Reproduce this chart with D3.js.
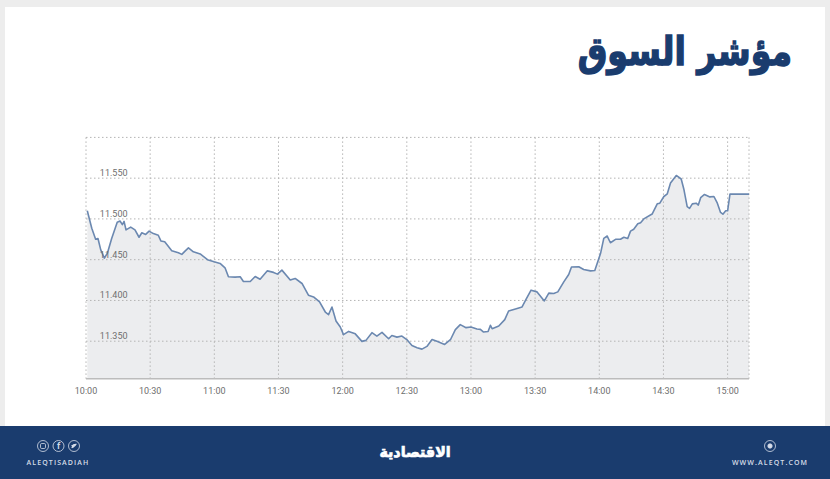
<!DOCTYPE html>
<html lang="ar">
<head>
    <meta charset="UTF-8">
    <title>مؤشر السوق</title>
    <script src="https://d3js.org/d3.v7.min.js"></script>
    <style>
        html, body { margin: 0; padding: 0; background: #fff; }
        svg { display: block; }
        .grid line { stroke: #b4b4b4; stroke-dasharray: 1.5 2.5; }
        .tick-label { font-family: Roboto, sans-serif; font-size: 9px; fill: #6e6e6e; }
    </style>
</head>
<body>
    <script>
        // minutes after 10:00
        var minutes = [0.6, 2.7, 4.5, 5.6, 6.9, 8.6, 10, 12, 14.6, 15.9, 17, 17.8, 18.7, 20.9, 22.9, 24.8, 26.1, 27.9, 29.5, 31.5,
            33.8, 35, 36.8, 40.1, 43.2, 44.8, 46.3, 47.9, 50.2, 53.4, 56.8, 59.9, 62.7, 65, 66.6, 69.7, 72.1, 73.6, 76.8, 79.1,
            81.4, 84.8, 87.7, 89.5, 91.6, 95.5, 97.8, 101, 104, 106.4, 109.2, 111.9, 113.4, 115, 116.9, 118.9, 120.4, 122.8, 125.9, 129,
            130.9, 133.7, 136, 138.4, 141.5, 143, 145.4, 147.7, 150, 152.4, 154.8, 157.1, 159.4, 161.8, 164.1, 167.7, 170.4, 172.7, 175, 177.7,
            180, 182.8, 184.4, 185.9, 188, 189.1, 189.9, 193, 195.8, 197.6, 200.8, 203.9, 205.8, 208.1, 210.9, 214.3, 216.4, 218.7, 220.6, 223.4,
            225.7, 227, 230.4, 232.7, 235.9, 237.9, 240.6, 242.1, 243.7, 245.2, 247.6, 249.9, 251.5, 253.3, 254.6, 256.1, 258, 259.3, 260.8, 264.7,
            267.1, 268.3, 270.2, 271.8, 273.3, 276, 278.3, 279.6, 281.1, 282.2, 283.5, 285.3, 286.3, 287.4, 289.2, 291.7, 293.6, 295.2, 296.7, 297.8,
            299.1, 300, 301.1, 310];

        var values = [11510, 11488.5, 11475, 11476, 11462, 11452, 11458, 11476, 11496, 11497.5, 11493, 11497, 11486.5, 11490, 11486.5, 11477.5, 11483, 11481, 11485, 11482,
            11480, 11473, 11472, 11461, 11458.5, 11456.5, 11460.5, 11464.5, 11459.7, 11457, 11450, 11447.4, 11445.4, 11440, 11429, 11428.6, 11429, 11423.3, 11423.3, 11429.4,
            11426, 11436.3, 11434.4, 11432.3, 11437.2, 11425, 11427, 11420.8, 11406.4, 11404.3, 11398.2, 11385.8, 11382.6, 11392, 11374.8, 11367.4, 11358, 11362, 11359, 11349.8,
            11351, 11360.5, 11356.3, 11360.8, 11353, 11357, 11355, 11356.3, 11352, 11344.8, 11342, 11340.3, 11343.6, 11352, 11349.8, 11346, 11351.8, 11364.2, 11370.3, 11366.6,
            11367.4, 11365, 11364.5, 11361.2, 11362, 11369.5, 11365.4, 11368.6, 11376.5, 11387, 11389.5, 11392, 11401.5, 11412.6, 11410.5, 11399.4, 11409, 11408.5, 11410.5, 11422.8,
            11431.9, 11441, 11441.3, 11438, 11436.3, 11436.8, 11457.8, 11476.2, 11479, 11470.8, 11475, 11475, 11477.5, 11476, 11485, 11487.3, 11494, 11495.4, 11500, 11506,
            11518.5, 11519.3, 11527.5, 11530.8, 11544, 11553.3, 11549, 11535.7, 11515, 11513, 11518.5, 11519.3, 11517, 11526, 11530, 11527, 11527.5, 11519.3, 11508, 11505.8,
            11510, 11510, 11530.4, 11530.4];

        var xTicks = [0, 30, 60, 90, 120, 150, 180, 210, 240, 270, 300];
        var xLabels = ["10:00", "10:30", "11:00", "11:30", "12:00", "12:30", "13:00", "13:30", "14:00", "14:30", "15:00"];
        var yTicks = [11350, 11400, 11450, 11500, 11550];
        var yLabels = ["11.350", "11.400", "11.450", "11.500", "11.550"];

        var width = 830, height = 479;
        var navy = "#1a3c6e";

        var svg = d3.select("body").append("svg")
            .attr("width", width)
            .attr("height", height);

        // page frame
        svg.append("rect").attr("width", width).attr("height", height).attr("fill", "#ededed");
        svg.append("rect").attr("x", 5).attr("y", 7).attr("width", 820).attr("height", 419).attr("fill", "#fff");

        var x = d3.scaleLinear().domain([0, 310]).range([86, 749]);
        var y = d3.scaleLinear().domain([11304, 11600]).range([378.7, 137.4]);

        var points = d3.zip(minutes, values);

        var area = d3.area()
            .x(function (d) { return x(d[0]); })
            .y0(y(11304))
            .y1(function (d) { return y(d[1]); });

        var line = d3.line()
            .x(function (d) { return x(d[0]); })
            .y(function (d) { return y(d[1]); });

        svg.append("path").attr("d", area(points)).attr("fill", "#ecedef");

        var grid = svg.append("g").attr("class", "grid");
        grid.selectAll(".h")
            .data(yTicks.concat([11600]))
            .enter().append("line")
            .attr("x1", x(0)).attr("x2", x(310))
            .attr("y1", function (d) { return y(d); })
            .attr("y2", function (d) { return y(d); });
        grid.selectAll(".v")
            .data(xTicks.concat([310]))
            .enter().append("line")
            .attr("x1", function (d) { return x(d); })
            .attr("x2", function (d) { return x(d); })
            .attr("y1", y(11600)).attr("y2", y(11304));

        svg.append("line")
            .attr("x1", x(0)).attr("x2", x(310))
            .attr("y1", y(11304)).attr("y2", y(11304))
            .attr("stroke", "#bcbcbc").attr("stroke-width", 1.6);

        svg.append("path")
            .attr("d", line(points))
            .attr("fill", "none")
            .attr("stroke", "#6b88b0")
            .attr("stroke-width", 1.6)
            .attr("stroke-linejoin", "round");

        svg.selectAll(".ylab")
            .data(yTicks)
            .enter().append("text")
            .attr("class", "tick-label")
            .attr("x", 127.5)
            .attr("y", function (d) { return y(d) - 2; })
            .attr("text-anchor", "end")
            .text(function (d, i) { return yLabels[i]; });

        svg.selectAll(".xlab")
            .data(xTicks)
            .enter().append("text")
            .attr("class", "tick-label")
            .attr("x", function (d) { return x(d); })
            .attr("y", 393.5)
            .attr("text-anchor", "middle")
            .text(function (d, i) { return xLabels[i]; });

        // title, squeezed and thickened to get the weight of the original
        svg.append("text")
            .attr("transform", "translate(792,65) scale(0.83,1)")
            .attr("text-anchor", "start")
            .attr("direction", "rtl")
            .attr("font-family", "DejaVu Sans")
            .attr("font-weight", "bold")
            .attr("font-size", 40)
            .attr("stroke", navy)
            .attr("stroke-width", 1.5)
            .attr("fill", navy)
            .text("مؤشر السوق");

        // footer
        svg.append("rect").attr("x", 0).attr("y", 426).attr("width", width).attr("height", 53).attr("fill", navy);

        var iconFill = "#d5dce8";
        var footer = svg.append("g").attr("fill", "none").attr("stroke", iconFill).attr("stroke-width", 0.8);
        [43, 58.5, 74, 770].forEach(function (cx) {
            footer.append("circle").attr("cx", cx).attr("cy", 446).attr("r", 5.5);
        });
        footer.append("rect").attr("x", 40.5).attr("y", 443.5).attr("width", 5).attr("height", 5).attr("rx", 1.2);
        footer.append("circle").attr("cx", 770).attr("cy", 446).attr("r", 2.2).attr("fill", iconFill);

        var footText = [
            { t: "f", x: 58.5, y: 449, s: 8, w: "bold", ls: 0 },
            { t: "ALEQTISADIAH", x: 58, y: 465, s: 7, w: "600", ls: 1.1 },
            { t: "WWW.ALEQT.COM", x: 770, y: 465, s: 7, w: "600", ls: 1.1 }
        ];
        svg.selectAll(".foot")
            .data(footText)
            .enter().append("text")
            .attr("x", function (d) { return d.x; })
            .attr("y", function (d) { return d.y; })
            .attr("text-anchor", "middle")
            .attr("font-family", "Open Sans")
            .attr("font-size", function (d) { return d.s; })
            .attr("font-weight", function (d) { return d.w; })
            .attr("letter-spacing", function (d) { return d.ls; })
            .attr("fill", iconFill)
            .text(function (d) { return d.t; });

        // bird glyph stand-in for the third icon
        svg.append("path")
            .attr("d", d3.line().curve(d3.curveBasis)([[71, 448], [73, 448.5], [76.5, 445], [77, 443.5], [75, 444], [73, 444], [72.5, 445.5], [71, 444.5], [72, 447]]))
            .attr("fill", iconFill);

        svg.append("text")
            .attr("transform", "translate(415,457) scale(0.95,1)")
            .attr("text-anchor", "middle")
            .attr("direction", "rtl")
            .attr("font-family", "DejaVu Sans")
            .attr("font-weight", "bold")
            .attr("font-size", 15)
            .attr("stroke", "#fff")
            .attr("stroke-width", 0.7)
            .attr("fill", "#fff")
            .text("الاقتصادية");
    </script>
</body>
</html>
